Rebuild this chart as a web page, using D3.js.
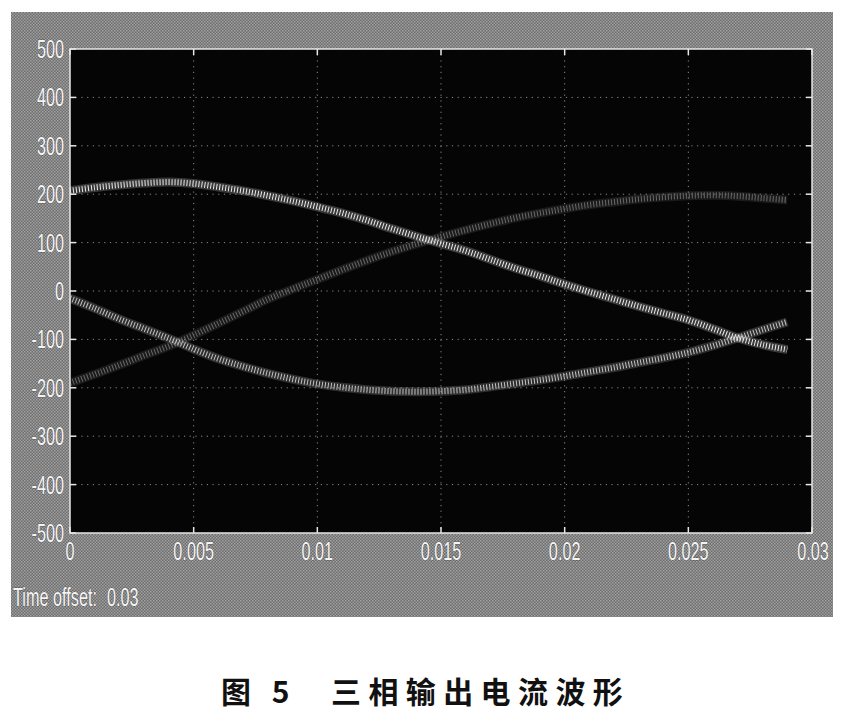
<!DOCTYPE html>
<html><head><meta charset="utf-8">
<script src="https://cdn.jsdelivr.net/npm/d3@7"></script>
<style>
html,body{margin:0;padding:0;background:#fff;}
svg{display:block;}
</style>
</head><body>
<svg id="chart" width="848" height="723"></svg>
<script>
// ---- data ----
const timeValues = [0,0.001,0.002,0.003,0.004,0.005,0.006,0.007,0.008,0.009,0.010,0.011,0.012,0.013,0.014,0.015,0.016,0.017,0.018,0.019,0.020,0.021,0.022,0.023,0.024,0.025,0.026,0.027,0.028,0.029];
const phaseA = [207,214,219,223,225,222,215,207,197,186,174,161,146,129,113,98,83,65,47,31,14,-2,-17,-32,-46,-60,-78,-97,-111,-121];
const phaseB = [-190,-172,-153,-133,-114,-91,-67,-42,-17,4,24,44,63,81,97,112,126,139,151,161,170,178,184,190,194,197,198,196,192,188];
const phaseC = [-15,-36,-58,-78,-98,-120,-140,-156,-170,-182,-192,-199,-204,-207,-208,-207,-204,-198,-191,-184,-176,-167,-158,-148,-138,-127,-113,-97,-80,-64];
const xTicks = [0,0.005,0.01,0.015,0.02,0.025,0.03];
const xTickLabels = ["0","0.005","0.01","0.015","0.02","0.025","0.03"];
const yTicks = [500,400,300,200,100,0,-100,-200,-300,-400,-500];
const yTickLabels = ["500","400","300","200","100","0","-100","-200","-300","-400","-500"];
const offsetLabel = "Time offset:";
const offsetValue = "0.03";
const captionFig = "图 5";
const captionTitle = "三相输出电流波形";

const svg = d3.select("#chart");
const L = 70, R = 812, T = 49, B = 533;

// grey frame
svg.append("rect").attr("x",11).attr("y",12).attr("width",822).attr("height",605).attr("fill","#7e7e7e");
const defs = svg.append("defs");
const pat = defs.append("pattern").attr("id","ht").attr("width",3).attr("height",3).attr("patternUnits","userSpaceOnUse");
pat.append("rect").attr("width",3).attr("height",3).attr("fill","#6c6c6c");
pat.append("rect").attr("width",1.5).attr("height",1.5).attr("fill","#a4a4a4");
pat.append("rect").attr("x",1.5).attr("y",1.5).attr("width",1.5).attr("height",1.5).attr("fill","#9c9c9c");
svg.append("rect").attr("x",11).attr("y",12).attr("width",822).attr("height",605).attr("fill","url(#ht)");

const x = d3.scaleLinear().domain([0,0.03]).range([L,R]);
const y = d3.scaleLinear().domain([-500,500]).range([B,T]);

// plot area
svg.append("rect").attr("x",L).attr("y",T).attr("width",R-L).attr("height",B-T).attr("fill","#050505");

// grid
const g = svg.append("g");
g.selectAll("line.gy").data(yTicks.filter(v=>v!==500&&v!==-500)).enter().append("line")
  .attr("x1",L).attr("x2",R).attr("y1",d=>y(d)).attr("y2",d=>y(d))
  .attr("stroke","#8a8a8a").attr("stroke-width",1).attr("stroke-dasharray","1.2,4.5");
g.selectAll("line.gx").data(xTicks.filter(v=>v!==0&&v!==0.03)).enter().append("line")
  .attr("y1",T).attr("y2",B).attr("x1",d=>x(d)).attr("x2",d=>x(d))
  .attr("stroke","#8a8a8a").attr("stroke-width",1).attr("stroke-dasharray","1.2,4.5");

// curves
const pts = arr => arr.map((v,i)=>[timeValues[i],v]);
const line = d3.line().x(d=>x(d[0])).y(d=>y(d[1])).curve(d3.curveCatmullRom);
const series = [
  {data:phaseB, col:"#6a6a6a"},
  {data:phaseC, col:"#c4c4c4"},
  {data:phaseA, col:"#eeeeee"}
];
series.forEach(s=>{
  svg.append("path").attr("d",line(pts(s.data))).attr("fill","none")
    .attr("stroke",s.col).attr("stroke-opacity",0.22).attr("stroke-width",9);
  svg.append("path").attr("d",line(pts(s.data))).attr("fill","none")
    .attr("stroke",s.col).attr("stroke-width",6).attr("stroke-dasharray","1,2");
});

// frame and ticks
svg.append("rect").attr("x",L).attr("y",T).attr("width",R-L).attr("height",B-T)
  .attr("fill","none").attr("stroke","#e6e6e6").attr("stroke-width",1.5);
const tk = svg.append("g").attr("stroke","#e6e6e6").attr("stroke-width",1.5);
yTicks.forEach(v=>{
  tk.append("line").attr("x1",L).attr("x2",L+6).attr("y1",y(v)).attr("y2",y(v));
  tk.append("line").attr("x1",R-6).attr("x2",R).attr("y1",y(v)).attr("y2",y(v));
});
xTicks.forEach(v=>{
  tk.append("line").attr("x1",x(v)).attr("x2",x(v)).attr("y1",B).attr("y2",B-6);
  tk.append("line").attr("x1",x(v)).attr("x2",x(v)).attr("y1",T).attr("y2",T+6);
});

// tick labels
const font = "'Liberation Sans',Arial,sans-serif";
function label(txt, px, py, anchor){
  svg.append("text").text(txt)
    .attr("transform",`translate(${px},${py}) scale(0.65,1)`)
    .attr("text-anchor",anchor).attr("font-family",font).attr("font-size",25)
    .attr("fill","#f4f4f4").attr("stroke","#333").attr("stroke-width",0.6).attr("paint-order","stroke");
}
yTicks.forEach((v,i)=> label(yTickLabels[i], 64, y(v)+9, "end"));
xTicks.forEach((v,i)=> label(xTickLabels[i], x(v)+ (i===6? 1:0), 560, "middle"));
label(offsetLabel, 13, 606, "start");
label(offsetValue, 107, 606, "start");

// caption
const cf = "'Noto Sans CJK SC','Noto Sans CJK TC',sans-serif";
svg.append("text").text(captionFig).attr("x",221).attr("y",703)
  .attr("font-family",cf).attr("font-weight","bold").attr("font-size",30).attr("fill","#111")
  .attr("letter-spacing",7);
svg.append("text").text(captionTitle).attr("x",331).attr("y",703)
  .attr("font-family",cf).attr("font-weight","bold").attr("font-size",30).attr("fill","#111")
  .attr("letter-spacing",7.4);
</script>
</body></html>
